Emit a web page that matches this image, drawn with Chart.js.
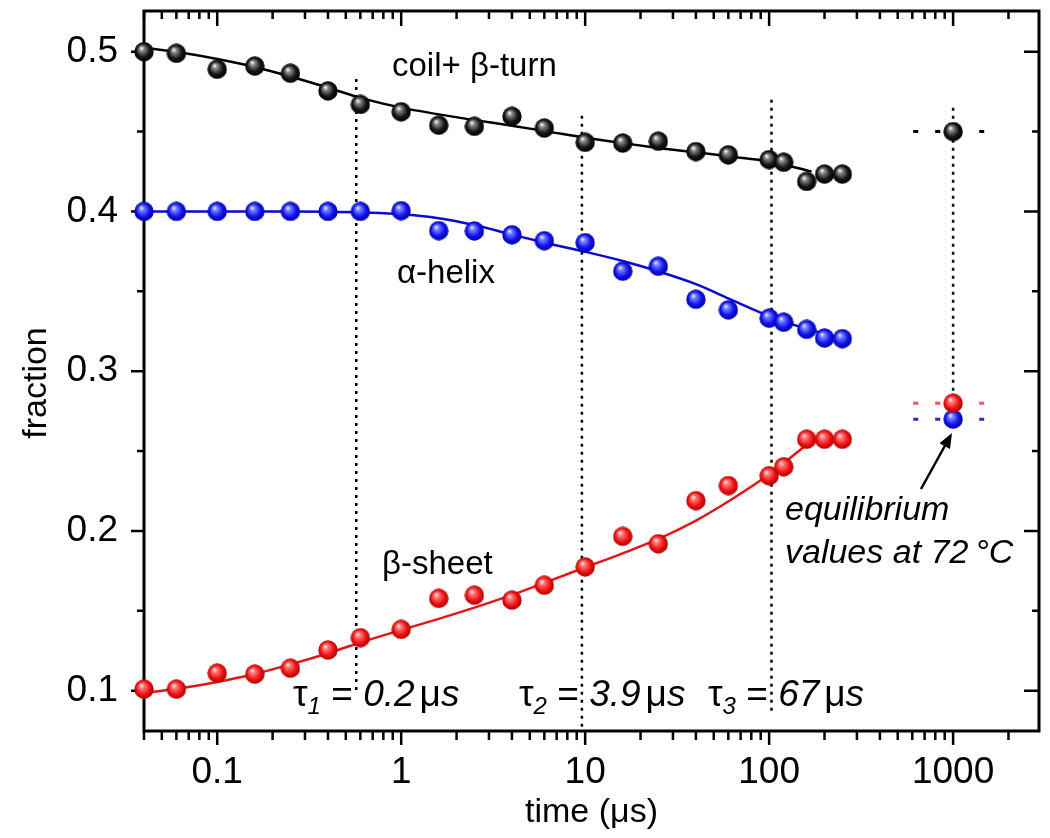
<!DOCTYPE html>
<html><head><meta charset="utf-8">
<script src="https://cdn.jsdelivr.net/npm/chart.js@4.4.0/dist/chart.umd.min.js"></script>
<style>html,body{margin:0;padding:0;background:#fff;}canvas{display:block}</style>
</head><body>
<canvas id="c" width="1050" height="838" style="width:1050px;height:838px"></canvas>
<script>
// ---- data ----
const times = [0.04,0.06,0.1,0.16,0.25,0.4,0.6,1,1.6,2.5,4,6,10,16,25,40,60,100,120,160,200,250];
const coilTurn = [0.500,0.499,0.489,0.491,0.4865,0.4755,0.467,0.4624,0.454,0.4533,0.4595,0.4522,0.4433,0.4428,0.4440,0.4375,0.4354,0.4325,0.4308,0.4188,0.4234,0.4234];
const alphaHelix = [0.400,0.400,0.400,0.400,0.400,0.400,0.400,0.4005,0.388,0.3878,0.3854,0.3817,0.3805,0.3626,0.3657,0.345,0.3384,0.3332,0.3307,0.3262,0.3208,0.3204];
const betaSheet = [0.101,0.101,0.111,0.1104,0.1141,0.1255,0.1332,0.1384,0.1578,0.1598,0.1567,0.166,0.1775,0.1966,0.192,0.219,0.2284,0.2346,0.2402,0.2574,0.2574,0.2574];

const eqTime = [1000];
const coilEq = [0.45];
const helixEq = [0.27];
const sheetEq = [0.28];

const coilFitT = [0.04,0.063,0.1,0.16,0.25,0.4,0.63,1,1.6,2.5,4,6.3,10,16,25,40,63,100,170];
const coilFitV = [0.5025,0.4995,0.4955,0.4905,0.4845,0.4775,0.4705,0.4650,0.4608,0.4572,0.4537,0.4500,0.4462,0.4428,0.4398,0.4370,0.4343,0.4313,0.4250];
const helixFitT = [0.04,0.25,0.4,0.63,1,1.6,2.5,4,6.3,10,16,25,40,63,100,160,250];
const helixFitV = [0.400,0.400,0.3998,0.3993,0.3983,0.3958,0.3915,0.3855,0.3800,0.3748,0.3690,0.3625,0.3545,0.3445,0.3345,0.3265,0.3205];
const sheetFitT = [0.04,0.063,0.1,0.16,0.25,0.4,0.63,1,1.6,2.5,4,6.3,10,16,25,40,63,100,160];
const sheetFitV = [0.0985,0.1015,0.1055,0.1105,0.1165,0.1235,0.1310,0.1380,0.1450,0.1520,0.1600,0.1685,0.1772,0.1860,0.1950,0.2065,0.2200,0.2355,0.2540];

const tauTimes = [0.57, 9.6, 103];
const tauTop = [0.483, 0.460, 0.470];
const tauBottom = [0.100, 0.0748, 0.085];
const eqLineTop = [0.465];
const eqLineBottom = [0.285];
const eqDashFrom = [607];
const eqDashTo = [1820];

const xTickValues = [0.1, 1, 10, 100, 1000];
const yTickValues = [0.1, 0.2, 0.3, 0.4, 0.5];

// ---- helpers ----
const FONT = '"Liberation Sans", Arial, Helvetica, sans-serif';
function pts(xs, ys) { return xs.map((x, i) => ({x: x, y: ys[i]})); }
function sphere(hi, mid, base, dark) {
  const c = document.createElement('canvas'); c.width = 20; c.height = 20;
  const g = c.getContext('2d');
  const grd = g.createRadialGradient(7.2, 6.2, 0.3, 10, 10, 10);
  grd.addColorStop(0, hi); grd.addColorStop(0.22, mid); grd.addColorStop(0.65, base); grd.addColorStop(1, dark);
  g.fillStyle = grd; g.beginPath(); g.arc(10, 10, 9.7, 0, Math.PI * 2); g.fill();
  return c;
}
const sBlack = sphere('#ffffff', '#8a8a8a', '#161616', '#000000');
const sBlue = sphere('#eef0ff', '#7482ff', '#1212f2', '#00009a');
const sRed = sphere('#fff0f0', '#ff7a7a', '#f01414', '#a80000');

function pointSet(data, img) {
  return {data: data, showLine: false, pointStyle: img, pointRadius: 10, pointHoverRadius: 10, clip: false, order: 0};
}
function fitSet(data, color) {
  return {data: data, showLine: true, borderColor: color, borderWidth: 2.5, pointRadius: 0, pointHoverRadius: 0,
    cubicInterpolationMode: 'monotone', fill: false, clip: false, order: 5};
}
function dotSet(data, color, dash, w) {
  return {data: data, showLine: true, borderColor: color, borderWidth: w, borderDash: dash, pointRadius: 0,
    pointHoverRadius: 0, fill: false, clip: false, order: 8, borderCapStyle: 'butt'};
}

const datasets = [
  pointSet(pts(times, coilTurn), sBlack),
  pointSet(pts(times, alphaHelix), sBlue),
  pointSet(pts(times, betaSheet), sRed),
  pointSet(pts(eqTime, coilEq), sBlack),
  pointSet(pts(eqTime, sheetEq), sRed),
  pointSet(pts(eqTime, helixEq), sBlue),
  fitSet(pts(coilFitT, coilFitV), '#000000'),
  fitSet(pts(helixFitT, helixFitV), '#0a0ad0'),
  fitSet(pts(sheetFitT, sheetFitV), '#e01818'),
];
tauTimes.forEach((t, i) => datasets.push(dotSet([{x: t, y: tauTop[i]}, {x: t, y: tauBottom[i]}], '#000', [3, 5], 2.5)));
datasets.push(dotSet([{x: eqTime[0], y: eqLineTop[0]}, {x: eqTime[0], y: eqLineBottom[0]}], '#000', [3, 5], 2.5));
datasets.push(dotSet([{x: eqDashFrom[0], y: coilEq[0]}, {x: eqDashTo[0], y: coilEq[0]}], '#000', [5, 17], 3));
datasets.push(dotSet([{x: eqDashFrom[0], y: sheetEq[0]}, {x: eqDashTo[0], y: sheetEq[0]}], '#ee5555', [5, 17], 3));
datasets.push(dotSet([{x: eqDashFrom[0], y: helixEq[0]}, {x: eqDashTo[0], y: helixEq[0]}], '#2a2ab8', [5, 17], 3));

// ---- frame & ticks plugin ----
const framePlugin = {
  id: 'frame',
  beforeDatasetsDraw(chart) {
    const {ctx, chartArea: a, scales: {x, y}} = chart;
    ctx.save();
    ctx.strokeStyle = '#000'; ctx.lineWidth = 3; ctx.lineCap = 'square';
    ctx.strokeRect(a.left, a.top, a.right - a.left, a.bottom - a.top);
    ctx.lineWidth = 2.5; ctx.lineCap = 'butt';
    const xmin = x.min, xmax = x.max;
    for (let e = -2; e <= 3; e++) {
      for (let m = 1; m <= 9; m++) {
        const v = m * Math.pow(10, e);
        if (v < xmin * 0.999 || v > xmax) continue;
        const px = x.getPixelForValue(v);
        const major = m === 1;
        ctx.beginPath();
        ctx.moveTo(px, a.bottom); ctx.lineTo(px, a.bottom + (major ? 14 : 9));
        ctx.moveTo(px, a.top); ctx.lineTo(px, a.top + (major ? 15 : 8));
        ctx.stroke();
      }
    }
    for (let k = 2; k <= 10; k++) {
      const v = k * 0.05;
      const py = y.getPixelForValue(v);
      const major = k % 2 === 0;
      ctx.beginPath();
      ctx.moveTo(a.left, py); ctx.lineTo(a.left - (major ? 13 : 7), py);
      ctx.moveTo(a.right, py); ctx.lineTo(a.right - (major ? 15 : 7), py);
      ctx.stroke();
    }
    ctx.restore();
  },
  afterDraw(chart) {
    const {ctx} = chart;
    ctx.save();
    ctx.fillStyle = '#000'; ctx.textBaseline = 'alphabetic'; ctx.textAlign = 'left';
    function rich(x, y, parts) {
      for (const p of parts) { ctx.font = p[1]; ctx.fillText(p[0], x, y + (p[2] || 0)); x += ctx.measureText(p[0]).width; }
    }
    const R = s => s + 'px ' + FONT, I = s => 'italic ' + s + 'px ' + FONT;
    ctx.save(); ctx.translate(37, 383); ctx.rotate(-Math.PI / 2);
    ctx.font = R(34); ctx.textAlign = 'center'; ctx.textBaseline = 'middle'; ctx.fillText('fraction', 0, 0);
    ctx.restore();
    ctx.font = R(33); ctx.fillText('coil+ β-turn', 392, 76);
    ctx.fillText('α-helix', 397, 283);
    ctx.fillText('β-sheet', 382, 574);
    rich(293, 706, [['τ', R(37)], ['1', I(24), 8], [' = ', R(37)], ['0.2', I(37)], [' ', R(18)], ['μ', R(37)], ['s', I(37)]]);
    rich(519, 706, [['τ', R(37)], ['2', I(24), 8], [' = ', R(37)], ['3.9', I(37)], [' ', R(18)], ['μ', R(37)], ['s', I(37)]]);
    rich(708, 706, [['τ', R(37)], ['3', I(24), 8], [' = ', R(37)], ['67', I(37)], [' ', R(18)], ['μ', R(37)], ['s', I(37)]]);
    ctx.font = I(34);
    ctx.fillText('equilibrium', 785, 520);
    ctx.fillText('values at 72\u2009\u00B0C', 785, 563);
    ctx.strokeStyle = '#000'; ctx.lineWidth = 2.5;
    const x0 = 921, y0 = 489, x1 = 952, y1 = 433;
    const ang = Math.atan2(y1 - y0, x1 - x0);
    ctx.beginPath(); ctx.moveTo(x0, y0); ctx.lineTo(x1 - 12 * Math.cos(ang), y1 - 12 * Math.sin(ang)); ctx.stroke();
    ctx.beginPath(); ctx.moveTo(x1, y1);
    ctx.lineTo(x1 - 15 * Math.cos(ang) + 6 * Math.sin(ang), y1 - 15 * Math.sin(ang) - 6 * Math.cos(ang));
    ctx.lineTo(x1 - 15 * Math.cos(ang) - 6 * Math.sin(ang), y1 - 15 * Math.sin(ang) + 6 * Math.cos(ang));
    ctx.closePath(); ctx.fill();
    ctx.restore();
  }
};

new Chart(document.getElementById('c'), {
  type: 'scatter',
  data: {datasets: datasets},
  options: {
    responsive: false, animation: false, devicePixelRatio: 1,
    layout: {padding: {top: 8, right: 11, left: 0, bottom: 0}},
    plugins: {legend: {display: false}, tooltip: {enabled: false}},
    scales: {
      x: {
        type: 'logarithmic', min: 0.04, max: 2930,
        grid: {display: false, drawTicks: false}, border: {display: false},
        afterBuildTicks: s => { s.ticks = xTickValues.map(v => ({value: v})); },
        afterFit: s => { s.height = 107; s.paddingLeft = 0; s.paddingRight = 0; s.paddingTop = 0; s.paddingBottom = 0; },
        ticks: {color: '#000', font: {family: FONT, size: 37}, padding: 20, maxRotation: 0, autoSkip: false,
          callback: v => String(v)},
        title: {display: true, text: 'time (\u03BCs)', color: '#000', font: {family: FONT, size: 34}, padding: {top: 0, bottom: 5}}
      },
      y: {
        type: 'linear', min: 0.0748, max: 0.5255,
        grid: {display: false, drawTicks: false}, border: {display: false},
        afterBuildTicks: s => { s.ticks = yTickValues.map(v => ({value: v})); },
        afterFit: s => { s.width = 144; s.paddingTop = 0; s.paddingBottom = 0; s.paddingLeft = 0; s.paddingRight = 0; },
        ticks: {color: '#000', font: {family: FONT, size: 37}, padding: 26, autoSkip: false,
          callback: v => v.toFixed(1)}
      }
    }
  },
  plugins: [framePlugin]
});
</script>
</body></html>
